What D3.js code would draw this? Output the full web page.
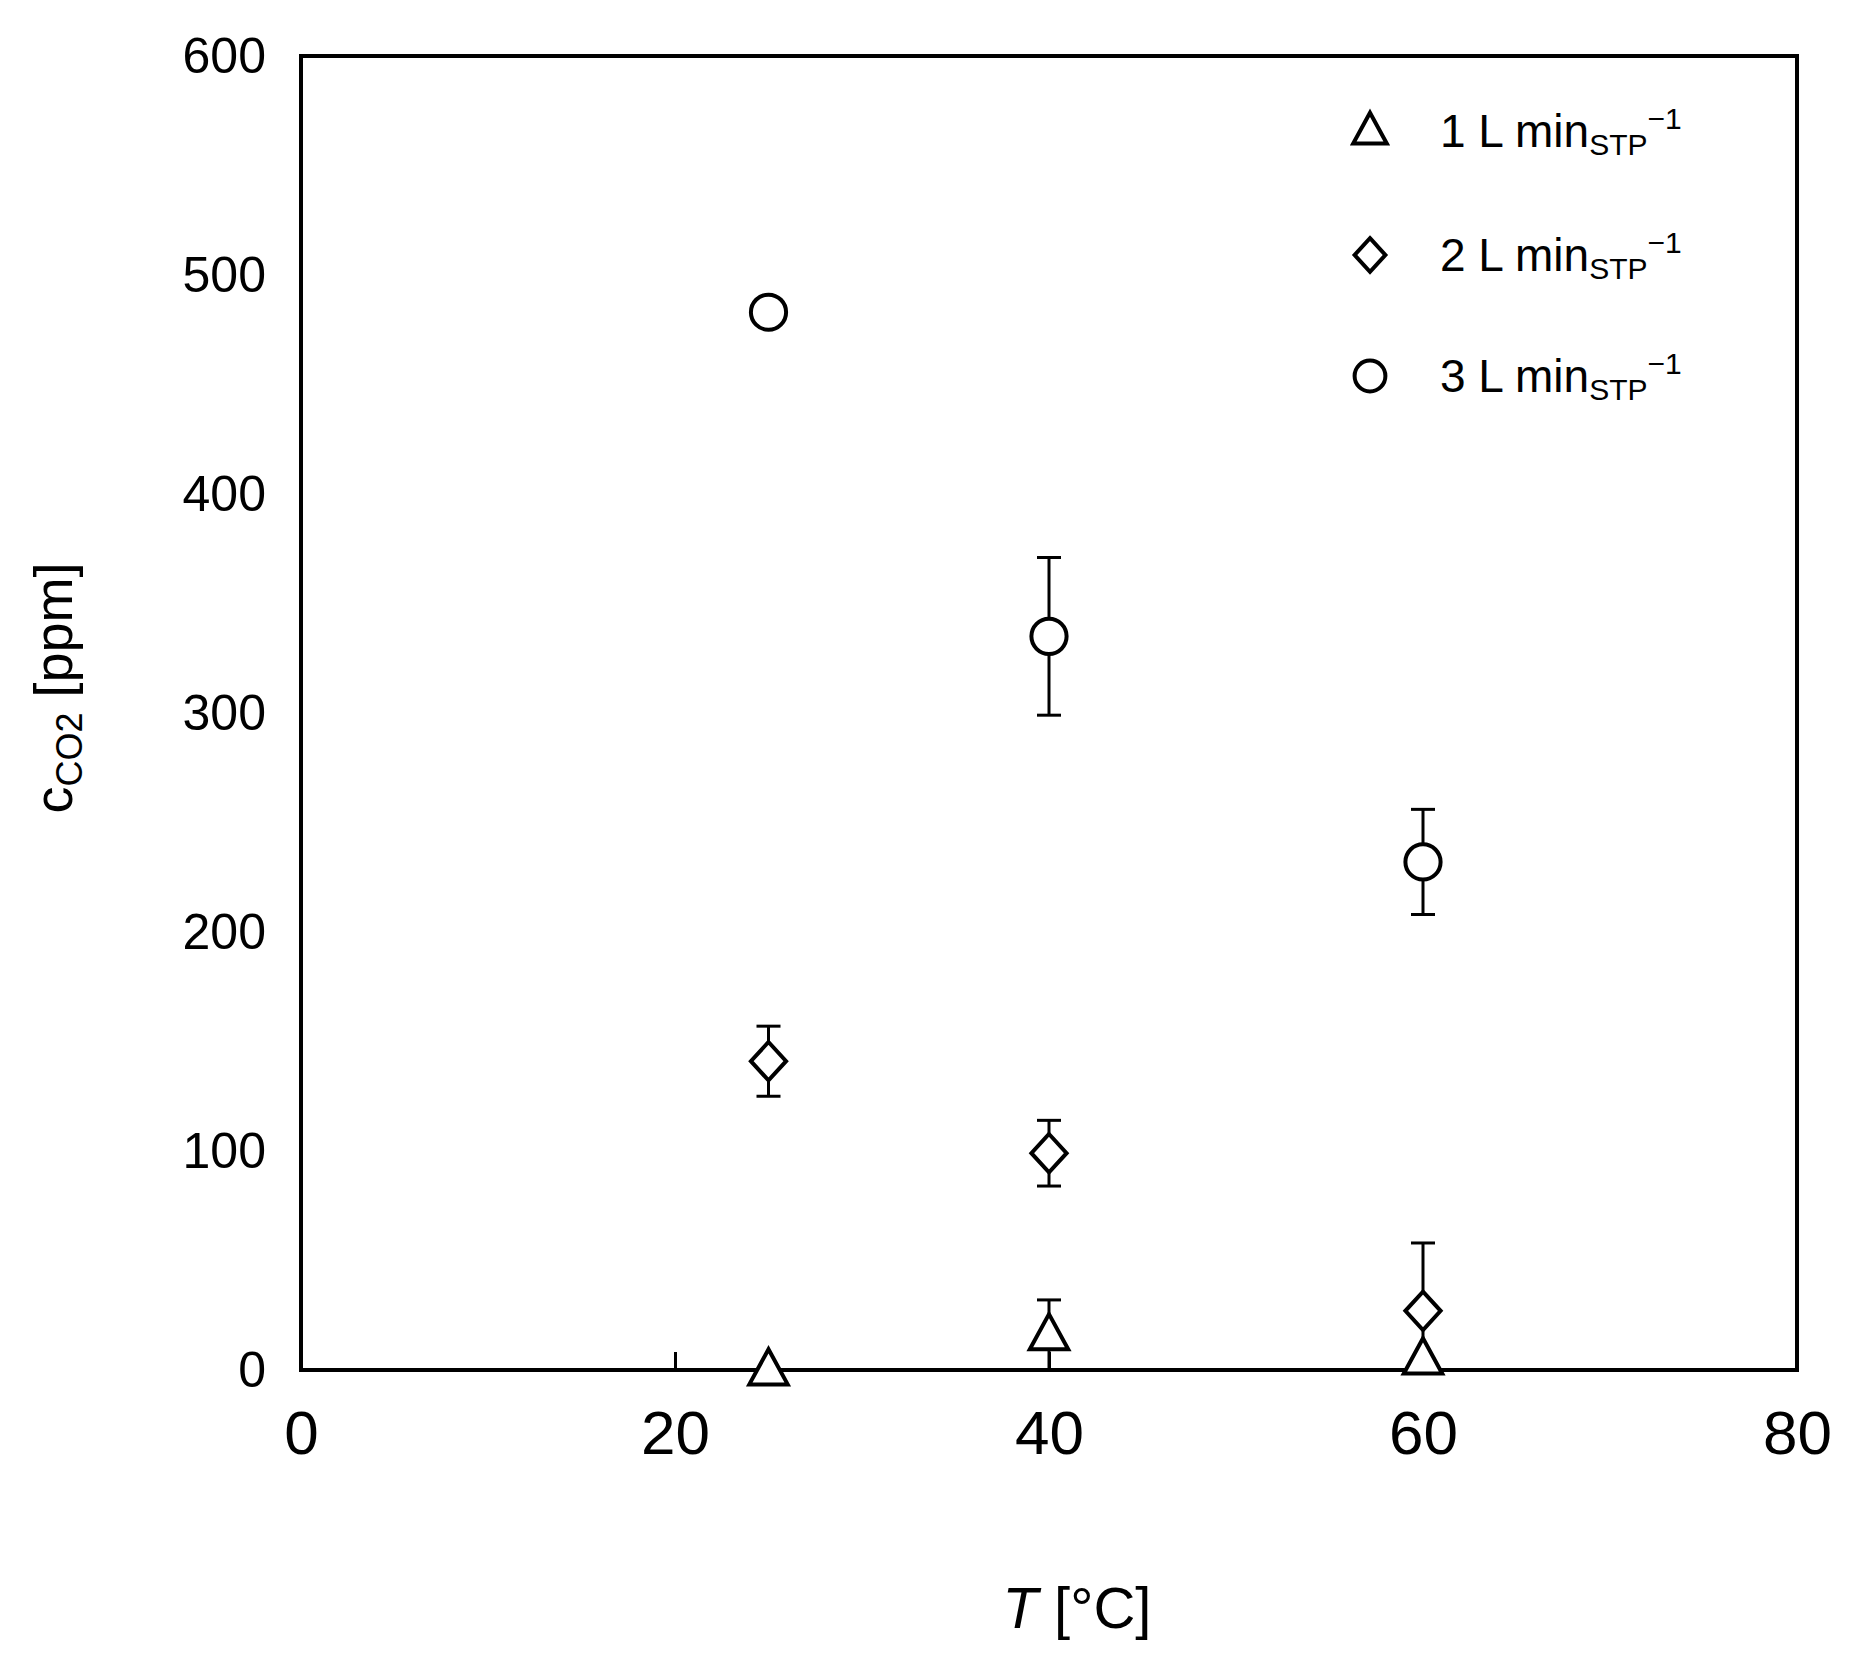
<!DOCTYPE html><html><head><meta charset="utf-8"><script src="https://cdn.jsdelivr.net/npm/d3@7"></script>
<style>body{margin:0;background:#fff}text{font-family:Arial,"Liberation Sans",sans-serif;fill:#000}</style></head><body>
<svg id="c" width="1851" height="1665"></svg>
<script>
const temps=[25,40,60];
const s1=[0,16,5], e1=[0,16,0];
const s2=[141,99,27], e2=[16,15,31];
const s3=[483,335,232], e3=[5,36,24];
const series=[{name:"1",vals:s1,err:e1,sym:"tri"},{name:"2",vals:s2,err:e2,sym:"dia"},{name:"3",vals:s3,err:e3,sym:"cir"}];
const xTicks=[0,20,40,60,80], yTicks=[0,100,200,300,400,500,600];
const L=301,R=1797,T=56,B=1370;
const svg=d3.select("#c");
const x=d3.scaleLinear().domain([0,80]).range([L,R]);
const y=d3.scaleLinear().domain([0,600]).range([B,T]);
const ax=svg.append("g").attr("transform",`translate(0,${B})`).call(d3.axisBottom(x).tickValues(xTicks).tickSize(-18).tickPadding(40));
ax.select(".domain").remove();ax.selectAll("line").attr("stroke","#000").attr("stroke-width",3);
ax.selectAll("text").attr("font-size",62).attr("dy","0.71em");
const ay=svg.append("g").attr("transform",`translate(${L},0)`).call(d3.axisLeft(y).tickValues(yTicks).tickSize(0).tickPadding(35));
ay.select(".domain").remove();ay.selectAll("text").attr("font-size",50);
svg.append("rect").attr("x",L).attr("y",T).attr("width",R-L).attr("height",B-T).attr("fill","none").attr("stroke","#000").attr("stroke-width",4);
function sym(g,t,cx,cy,sz){
 if(t=="cir")g.append("circle").attr("cx",cx).attr("cy",cy).attr("r",sz*0.55);
 else if(t=="dia")g.append("path").attr("d",`M${cx},${cy-sz*0.6}L${cx+sz*0.55},${cy}L${cx},${cy+sz*0.6}L${cx-sz*0.55},${cy}Z`);
 else g.append("path").attr("d",`M${cx},${cy-sz*0.65}L${cx+sz*0.6},${cy+sz*0.45}L${cx-sz*0.6},${cy+sz*0.45}Z`);
}
const pg=svg.append("g").attr("stroke","#000").attr("stroke-width",4).attr("fill","#fff");
series.forEach(s=>{
 temps.forEach((t,i)=>{
  const e=s.err[i];if(e>0){
   const cx=x(t),y1=y(Math.max(0,s.vals[i]-e)),y2=y(s.vals[i]+e);
   pg.append("line").attr("x1",cx).attr("x2",cx).attr("y1",y1).attr("y2",y2).attr("stroke-width",3);
   [y1,y2].forEach(yy=>{ if(s.vals[i]-e>0||yy===y2) pg.append("line").attr("x1",cx-12).attr("x2",cx+12).attr("y1",yy).attr("y2",yy).attr("stroke-width",3);});
  }
 });
});
series.forEach(s=>temps.forEach((t,i)=>sym(pg,s.sym,x(t),y(s.vals[i]),32)));
const lg=svg.append("g");
const ly=[131,255,376];
series.forEach((s,i)=>{
 sym(pg,s.sym,1370,ly[i],28);
 const tx=lg.append("text").attr("x",1440).attr("y",ly[i]+16).attr("font-size",46);
 tx.append("tspan").text(s.name+" L min");
 tx.append("tspan").attr("font-size",30).attr("dy",8).text("STP");
 tx.append("tspan").attr("font-size",30).attr("dy",-26).text("−1");
});
const xt=svg.append("text").attr("x",1077).attr("y",1628).attr("text-anchor","middle").attr("font-size",58);
xt.append("tspan").attr("font-style","italic").text("T");xt.append("tspan").text(" [°C]");
const yt=svg.append("text").attr("transform","translate(72,688) rotate(-90)").attr("text-anchor","middle").attr("font-size",54);
yt.append("tspan").text("c");yt.append("tspan").attr("font-size",36).attr("dy",10).text("CO2");yt.append("tspan").attr("dy",-10).text(" [ppm]");
</script></body></html>
